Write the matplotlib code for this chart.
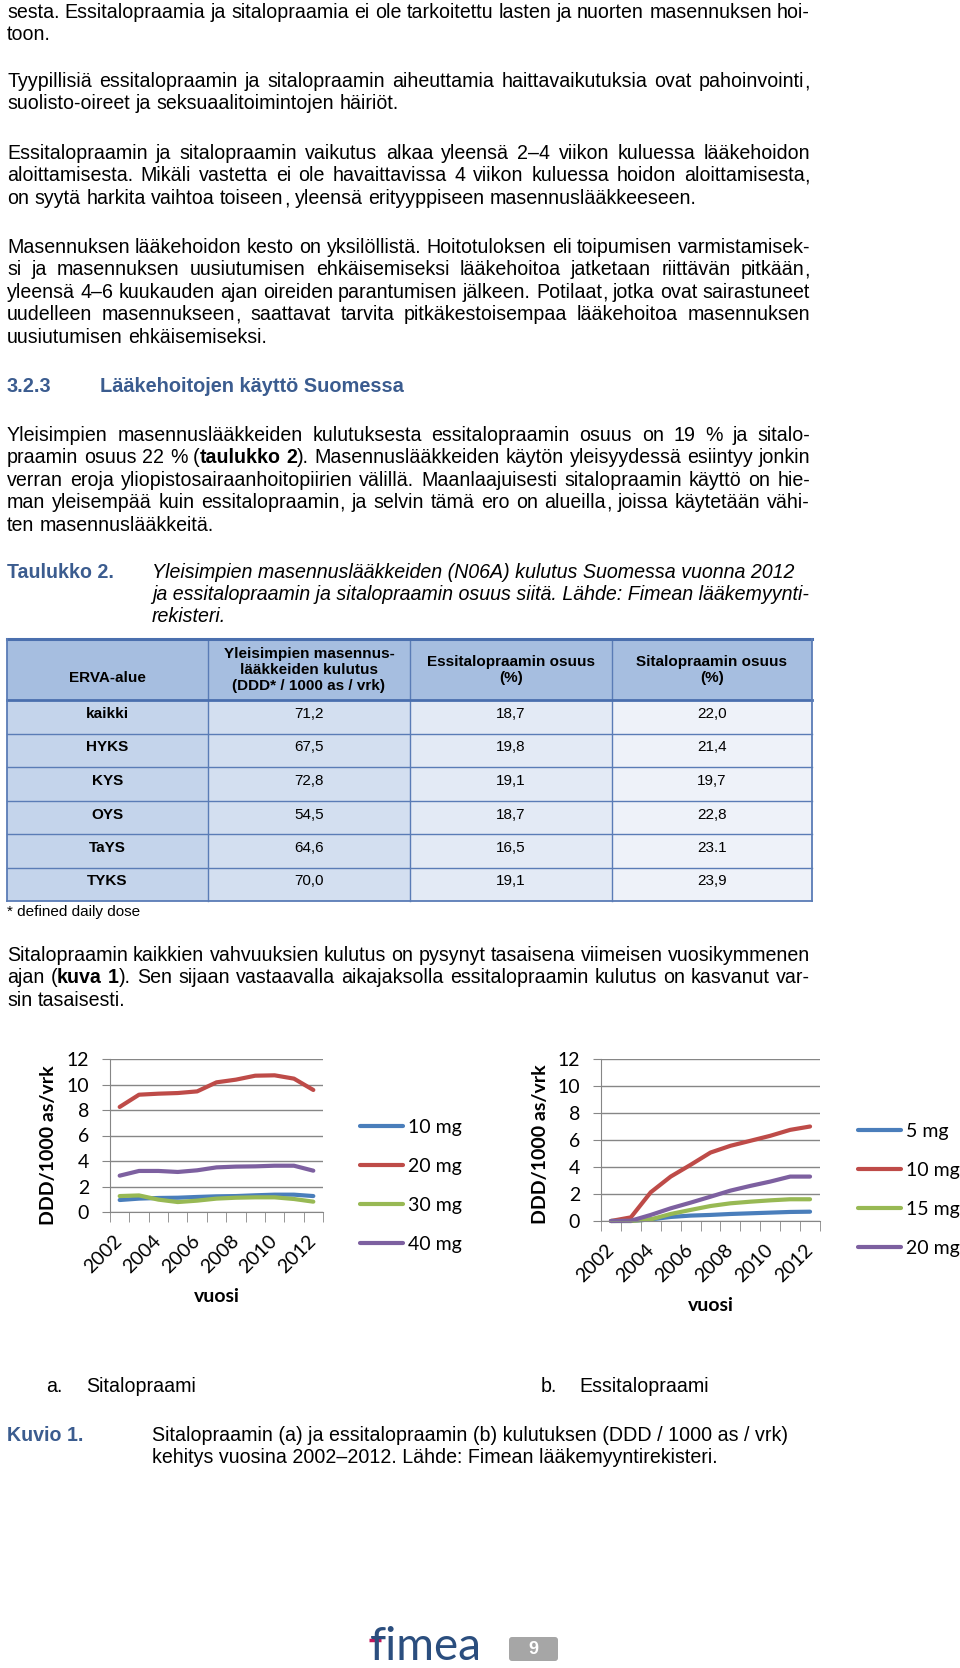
import numpy as np
import matplotlib
matplotlib.use('Agg')
import matplotlib.pyplot as plt
from matplotlib.patches import Rectangle, FancyBboxPatch

# ---------------- data ----------------
years = list(range(2002, 2013))

# a. Sitalopraami (DDD/1000 as/vrk)
sit_labels = ['10 mg', '20 mg', '30 mg', '40 mg']
sit_10 = [0.94, 1.05, 1.10, 1.12, 1.18, 1.23, 1.25, 1.31, 1.36, 1.36, 1.25]
sit_20 = [8.24, 9.20, 9.28, 9.33, 9.46, 10.17, 10.38, 10.69, 10.72, 10.46, 9.57]
sit_30 = [1.25, 1.30, 0.97, 0.78, 0.89, 1.05, 1.12, 1.15, 1.15, 1.02, 0.81]
sit_40 = [2.85, 3.22, 3.22, 3.14, 3.27, 3.50, 3.56, 3.58, 3.63, 3.63, 3.24]

# b. Essitalopraami
esc_labels = ['5 mg', '10 mg', '15 mg', '20 mg']
esc_5 = [0.0, 0.0, 0.12, 0.30, 0.40, 0.45, 0.52, 0.57, 0.62, 0.67, 0.69]
esc_10 = [0.0, 0.27, 2.13, 3.29, 4.16, 5.07, 5.57, 5.94, 6.31, 6.75, 7.00]
esc_15 = [0.0, 0.0, 0.12, 0.52, 0.82, 1.11, 1.31, 1.43, 1.53, 1.61, 1.61]
esc_20 = [0.0, 0.02, 0.45, 0.94, 1.36, 1.80, 2.25, 2.60, 2.92, 3.29, 3.29]

# Taulukko 2
table_headers = ['ERVA-alue',
                 'Yleisimpien masennus-\nlääkkeiden kulutus\n(DDD* / 1000 as / vrk)',
                 'Essitalopraamin osuus\n(%)',
                 'Sitalopraamin osuus\n(%)']
regions = ['kaikki', 'HYKS', 'KYS', 'OYS', 'TaYS', 'TYKS']
consumption = ['71,2', '67,5', '72,8', '54,5', '64,6', '70,0']
escit_share = ['18,7', '19,8', '19,1', '18,7', '16,5', '19,1']
cit_share = ['22,0', '21,4', '19,7', '22,8', '23.1', '23,9']

# ---------------- page ----------------
W, H = 960, 1668
BODY = 'Liberation Sans'
CHART = 'Lato'
BLUE = '#3B5C8F'
FS = 14.1
LINE_COLS = ['#4A7EBB', '#BE4B48', '#98B954', '#7D60A0']

fig = plt.figure(figsize=(W / 100, H / 100), dpi=100)
rend = fig.canvas.get_renderer()
page = fig.add_axes([0, 0, 1, 1])
page.set_xlim(0, W)
page.set_ylim(H, 0)
page.axis('off')


def measure(s, size, weight='normal', style='normal'):
    t = page.text(0, 0, s, fontsize=size, weight=weight, style=style, family=BODY)
    w = t.get_window_extent(rend).width
    t.remove()
    return w


def split_words(line):
    # '**' toggles bold; returns words as lists of (text, bold)
    # a trailing comma gets its own run, so the word keeps the baseline
    words, cur = [], []
    for i, part in enumerate(line.split('**')):
        bold = i % 2 == 1
        for j, piece in enumerate(part.split(' ')):
            if j > 0 and cur:
                words.append(cur)
                cur = []
            if piece.endswith(',') and len(piece) > 1:
                cur.append((piece[:-1], bold))
                cur.append((',', bold))
            elif piece:
                cur.append((piece, bold))
    if cur:
        words.append(cur)
    return words


def word_runs(word, size, style):
    # (text, bold, shift before, width) for every run of a word
    out = []
    for k, (t, b) in enumerate(word):
        wt = 'bold' if b else 'normal'
        wd = measure(t, size, wt, style)
        dx = 0
        if t == ',' and k > 0:
            prev = word[k - 1][0]
            dx = measure(prev + ',', size, wt, style) - measure(prev, size, wt, style) - wd
        out.append((t, b, dx, wd))
    return out


def draw_line(line, y, x0=7, x1=810, justify=True, size=FS, style='normal', color='black'):
    words = [word_runs(w, size, style) for w in split_words(line)]
    total = sum(dx + wd for w in words for _, _, dx, wd in w)
    if justify and len(words) > 1:
        gap = (x1 - x0 - total) / (len(words) - 1)
    else:
        gap = measure('a a', size, style=style) - measure('aa', size, style=style)
    x = x0
    base = round(y + 0.36 * size * 100 / 72)
    for w in words:
        for t, b, dx, wd in w:
            x += dx
            page.text(x, base, t, fontsize=size, family=BODY, style=style, color=color,
                      weight='bold' if b else 'normal', va='baseline', ha='left')
            x += wd
        x += gap


def para(lines, y0, step=22.4, **kw):
    for i, ln in enumerate(lines):
        draw_line(ln, y0 + i * step, justify=(i < len(lines) - 1), **kw)


def label(x, y, s, size=FS, **kw):
    page.text(x, round(y + 0.36 * size * 100 / 72), s, fontsize=size, family=BODY,
              va='baseline', ha='left', **kw)


para(["sesta. Essitalopraamia ja sitalopraamia ei ole tarkoitettu lasten ja nuorten masennuksen hoi-",
      "toon."], 11)
para(["Tyypillisiä essitalopraamin ja sitalopraamin aiheuttamia haittavaikutuksia ovat pahoinvointi,",
      "suolisto-oireet ja seksuaalitoimintojen häiriöt."], 80)
para(["Essitalopraamin ja sitalopraamin vaikutus alkaa yleensä 2–4 viikon kuluessa lääkehoidon",
      "aloittamisesta. Mikäli vastetta ei ole havaittavissa 4 viikon kuluessa hoidon aloittamisesta,",
      "on syytä harkita vaihtoa toiseen, yleensä erityyppiseen masennuslääkkeeseen."], 152)
para(["Masennuksen lääkehoidon kesto on yksilöllistä. Hoitotuloksen eli toipumisen varmistamisek-",
      "si ja masennuksen uusiutumisen ehkäisemiseksi lääkehoitoa jatketaan riittävän pitkään,",
      "yleensä 4–6 kuukauden ajan oireiden parantumisen jälkeen. Potilaat, jotka ovat sairastuneet",
      "uudelleen masennukseen, saattavat tarvita pitkäkestoisempaa lääkehoitoa masennuksen",
      "uusiutumisen ehkäisemiseksi."], 246)

label(7, 385, '3.2.3', size=14.4, weight='bold', color=BLUE)
label(100, 385, 'Lääkehoitojen käyttö Suomessa', size=14.4, weight='bold', color=BLUE)

para(["Yleisimpien masennuslääkkeiden kulutuksesta essitalopraamin osuus on 19 % ja sitalo-",
      "praamin osuus 22 % (**taulukko 2**). Masennuslääkkeiden käytön yleisyydessä esiintyy jonkin",
      "verran eroja yliopistosairaanhoitopiirien välillä. Maanlaajuisesti sitalopraamin käyttö on hie-",
      "man yleisempää kuin essitalopraamin, ja selvin tämä ero on alueilla, joissa käytetään vähi-",
      "ten masennuslääkkeitä."], 434)

label(7, 571, 'Taulukko 2.', weight='bold', color=BLUE)
for i, s in enumerate(["Yleisimpien masennuslääkkeiden (N06A) kulutus Suomessa vuonna 2012",
                       "ja essitalopraamin ja sitalopraamin osuus siitä. Lähde: Fimean lääkemyynti-",
                       "rekisteri."]):
    label(152, 571 + i * 22, s, style='italic')

# ---------------- table ----------------
col_x = [7, 208, 410, 612, 812]
row_y = [639, 700, 733.5, 767, 801, 834, 867.5, 901]
body_cols = ['#C4D4EB', '#D3DFF0', '#E3EAF5', '#EEF2F9']
page.add_patch(Rectangle((col_x[0], row_y[0]), col_x[-1] - col_x[0], row_y[1] - row_y[0],
                         fc='#A6BEE0', ec='none'))
for c in range(4):
    page.add_patch(Rectangle((col_x[c], row_y[1]), col_x[c + 1] - col_x[c], row_y[-1] - row_y[1],
                             fc=body_cols[c], ec='none'))
line_c = '#5A7CB6'
for x in col_x[1:-1]:
    page.plot([x, x], [row_y[0], row_y[-1]], color=line_c, lw=1)
for y in row_y[2:-1]:
    page.plot([col_x[0], col_x[-1]], [y, y], color=line_c, lw=1)
page.plot([col_x[0], col_x[-1]], [row_y[0], row_y[0]], color='#4A6FAE', lw=2.2)
page.plot([col_x[0], col_x[-1]], [row_y[1], row_y[1]], color='#4A6FAE', lw=2)
page.plot([col_x[0], col_x[-1]], [row_y[-1], row_y[-1]], color=line_c, lw=1.3)
for x in (col_x[0], col_x[-1]):
    page.plot([x, x], [row_y[0], row_y[-1]], color=line_c, lw=1.3)

TS = 11
hdr_y = [678, 670, 670, 670]
for c, h in enumerate(table_headers):
    page.text((col_x[c] + col_x[c + 1]) / 2, hdr_y[c], h, fontsize=TS, family=BODY,
              weight='bold', ha='center', va='center', linespacing=1.15)
for r in range(len(regions)):
    yc = (row_y[r + 1] + row_y[r + 2]) / 2 - 3
    vals = [regions[r], consumption[r], escit_share[r], cit_share[r]]
    for c, v in enumerate(vals):
        page.text((col_x[c] + col_x[c + 1]) / 2, yc, v, fontsize=TS, family=BODY,
                  weight='bold' if c == 0 else 'normal', ha='center', va='center')

label(7, 910, '* defined daily dose', size=TS)

para(["Sitalopraamin kaikkien vahvuuksien kulutus on pysynyt tasaisena viimeisen vuosikymmenen",
      "ajan (**kuva 1**). Sen sijaan vastaavalla aikajaksolla essitalopraamin kulutus on kasvanut var-",
      "sin tasaisesti."], 954)


# ---------------- charts ----------------
def chart(rect, series, labels, ylab_xy, xlab_y, leg_xy):
    ax = fig.add_axes(rect)
    x = np.arange(len(years))
    for vals, lab, col in zip(series, labels, LINE_COLS):
        ax.plot(x, vals, color=col, lw=3, label=lab, solid_capstyle='round',
                solid_joinstyle='round', clip_on=False)
    ax.set_xlim(-0.5, len(years) - 0.5)
    ax.set_ylim(0, 12)
    ax.set_yticks(range(0, 13, 2))
    ax.set_xticks(x[::2])
    ax.set_xticklabels([str(y) for y in years[::2]], rotation=45, ha='right',
                       va='center', rotation_mode='anchor')
    ax.set_xticks(np.arange(-0.5, len(years), 1), minor=True)
    ax.grid(axis='y', color='#868686', lw=1)
    ax.set_axisbelow(True)
    for s in ('top', 'right'):
        ax.spines[s].set_visible(False)
    for s in ('left', 'bottom'):
        ax.spines[s].set_color('#868686')
    ax.tick_params(axis='y', length=6, color='#868686', labelsize=14, pad=9)
    ax.tick_params(axis='x', which='major', length=0, labelsize=14, pad=19)
    ax.tick_params(axis='x', which='minor', length=7, color='#868686')
    for t in ax.get_xticklabels() + ax.get_yticklabels():
        t.set_family(CHART)
    ax.set_ylabel('DDD/1000 as/vrk', family=CHART, fontsize=14, weight='bold')
    ax.yaxis.set_label_coords(*ylab_xy)
    ax.set_xlabel('vuosi', family=CHART, fontsize=14, weight='bold')
    ax.xaxis.set_label_coords(0.5, xlab_y)
    ax.legend(loc='center left', bbox_to_anchor=leg_xy, bbox_transform=fig.transFigure,
              frameon=False, prop={'family': CHART, 'size': 14}, handlelength=2.2,
              handletextpad=0.26, labelspacing=1.14, borderpad=0, borderaxespad=0)
    return ax


chart([110 / W, 1 - 1212 / H, 213 / W, 153 / H], [sit_10, sit_20, sit_30, sit_40], sit_labels,
      (-0.249, 0.435), -0.497, (360 / W, 1 - 1186 / H))
chart([601 / W, 1 - 1221 / H, 219 / W, 162 / H], [esc_5, esc_10, esc_15, esc_20], esc_labels,
      (-0.237, 0.475), -0.469, (858 / W, 1 - 1190 / H))

label(46, 1385, 'a.')
label(86, 1385, 'Sitalopraami')
label(541, 1385, 'b.')
label(579, 1385, 'Essitalopraami')

label(7, 1434, 'Kuvio 1.', weight='bold', color=BLUE)
label(152, 1434, 'Sitalopraamin (a) ja essitalopraamin (b) kulutuksen (DDD / 1000 as / vrk)')
label(152, 1456, 'kehitys vuosina 2002–2012. Lähde: Fimean lääkemyyntirekisteri.')

# ---------------- footer ----------------
page.text(370, 1660, 'fimea', family=CHART, fontsize=33, color='#2B4E7E', va='baseline', ha='left')
page.plot([369, 381], [1640, 1640], color='#C2185B', lw=2.5, solid_capstyle='butt')
page.add_patch(FancyBboxPatch((509, 1637), 49, 24, boxstyle='round,pad=0,rounding_size=3',
                              fc='#A6A6A6', ec='none'))
page.text(533.5, 1650, '9', family=BODY, fontsize=13, weight='bold', color='white',
          ha='center', va='center')

fig.savefig('out.png', dpi=100)
